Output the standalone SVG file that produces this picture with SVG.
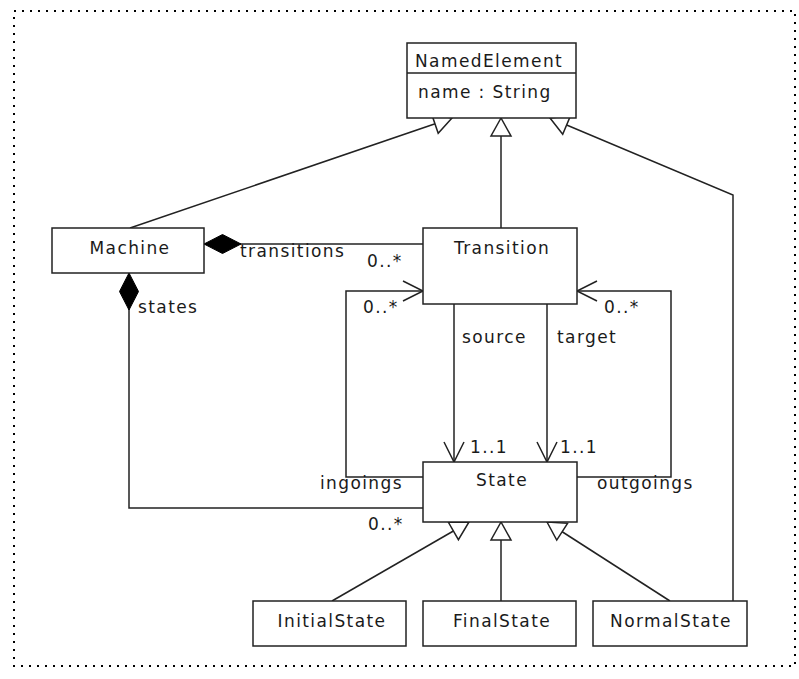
<svg xmlns="http://www.w3.org/2000/svg" width="799" height="679" viewBox="0 0 799 679">
  <style>
    .box { fill: #ffffff; stroke: #222222; stroke-width: 1.5; }
    .line { fill: none; stroke: #222222; stroke-width: 1.5; }
    .t { font-family: "DejaVu Sans", "Liberation Sans", sans-serif; font-size: 17px; fill: #1a1a1a; letter-spacing: 1.4px; }
    .c { text-anchor: middle; }
    .e { text-anchor: end; }
    .frame { fill: none; stroke: #000000; stroke-width: 2; stroke-dasharray: 2 6; }
  </style>
  <defs>
    <!-- hollow triangle for generalization -->
    <marker id="gen" viewBox="-20 -12 22 24" refX="0" refY="0" markerWidth="22" markerHeight="24" markerUnits="userSpaceOnUse" orient="auto">
      <path d="M0,0 L-18,-10 L-18,10 Z" fill="#ffffff" stroke="#222222" stroke-width="1.5"/>
    </marker>
    <!-- filled diamond for composition -->
    <marker id="comp" viewBox="-2 -12 42 24" refX="0" refY="0" markerWidth="42" markerHeight="24" markerUnits="userSpaceOnUse" orient="auto">
      <path d="M0,0 L18.5,-9.5 L37,0 L18.5,9.5 Z" fill="#000000" stroke="#000000" stroke-width="1"/>
    </marker>
    <!-- open arrow for navigable ends -->
    <marker id="open" viewBox="-22 -12 24 24" refX="0" refY="0" markerWidth="24" markerHeight="24" markerUnits="userSpaceOnUse" orient="auto">
      <path d="M-20,-10 L0,0 L-20,10" fill="none" stroke="#222222" stroke-width="1.5"/>
    </marker>
  </defs>

  <rect class="frame" x="14" y="11" width="781" height="655"/>

  <g id="connectors">
    <line class="line" x1="130" y1="228" x2="452" y2="118" marker-end="url(#gen)"/>
    <line class="line" x1="501" y1="228" x2="501" y2="118" marker-end="url(#gen)"/>
    <polyline class="line" points="733,601 733,195 550,118" marker-end="url(#gen)"/>
    <line class="line" x1="332" y1="601" x2="469" y2="522" marker-end="url(#gen)"/>
    <line class="line" x1="501" y1="601" x2="501" y2="522" marker-end="url(#gen)"/>
    <line class="line" x1="670" y1="601" x2="547" y2="522" marker-end="url(#gen)"/>
    <line class="line" x1="204" y1="244" x2="423" y2="244" marker-start="url(#comp)"/>
    <polyline class="line" points="129,273 129,508 423,508" marker-start="url(#comp)"/>
    <polyline class="line" points="423,477 346,477 346,291 423,291" marker-end="url(#open)"/>
    <polyline class="line" points="577,477 671,477 671,291 577,291" marker-end="url(#open)"/>
    <line class="line" x1="454" y1="304" x2="454" y2="462" marker-end="url(#open)"/>
    <line class="line" x1="547" y1="304" x2="547" y2="462" marker-end="url(#open)"/>

    <text class="t" x="240" y="257">transitions</text>
    <text class="t" x="367" y="267">0..*</text>
    <text class="t" x="138" y="313">states</text>
    <text class="t" x="363" y="313">0..*</text>
    <text class="t" x="604" y="313">0..*</text>
    <text class="t" x="462" y="343">source</text>
    <text class="t" x="557" y="343">target</text>
    <text class="t" x="470" y="453">1..1</text>
    <text class="t" x="560" y="453">1..1</text>
    <text class="t e" x="403" y="489">ingoings</text>
    <text class="t" x="597" y="489">outgoings</text>
    <text class="t" x="368" y="530">0..*</text>
  </g>

  <g id="NamedElement">
    <rect class="box" x="407" y="43" width="169" height="75"/>
    <line class="line" x1="407" y1="73" x2="576" y2="73"/>
    <text class="t" x="415" y="67">NamedElement</text>
    <text class="t" x="418" y="98">name : String</text>
  </g>
  <g id="Machine">
    <rect class="box" x="52" y="228" width="152" height="45"/>
    <text class="t c" x="130" y="254">Machine</text>
  </g>
  <g id="Transition">
    <rect class="box" x="423" y="228" width="154" height="76"/>
    <text class="t c" x="502" y="254">Transition</text>
  </g>
  <g id="State">
    <rect class="box" x="423" y="462" width="154" height="60"/>
    <text class="t c" x="502" y="486">State</text>
  </g>
  <g id="InitialState">
    <rect class="box" x="253" y="601" width="153" height="45"/>
    <text class="t c" x="332" y="627">InitialState</text>
  </g>
  <g id="FinalState">
    <rect class="box" x="423" y="601" width="153" height="45"/>
    <text class="t c" x="502" y="627">FinalState</text>
  </g>
  <g id="NormalState">
    <rect class="box" x="593" y="601" width="154" height="45"/>
    <text class="t c" x="671" y="627">NormalState</text>
  </g>
</svg>
